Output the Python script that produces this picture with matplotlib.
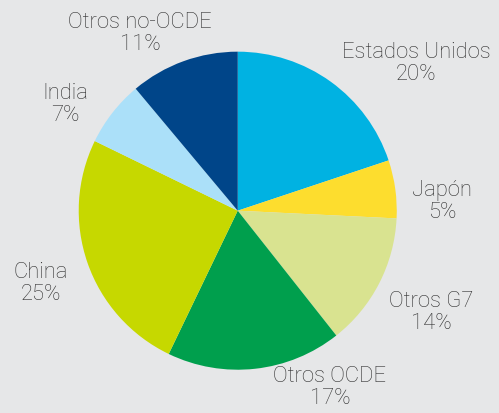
import matplotlib
matplotlib.use("Agg")
import matplotlib.pyplot as plt

# shares (clockwise from 12 o'clock)
names = ["Estados Unidos", "Japón", "Otros G7", "Otros OCDE", "China", "India", "Otros no-OCDE"]
shares = [19.9, 5.9, 13.6, 17.8, 25.1, 6.7, 11.1]
pct_labels = ["20%", "5%", "14%", "17%", "25%", "7%", "11%"]
colors = ["#00b2e2", "#fddd2e", "#d9e390", "#009f4d", "#c6d800", "#abe0f9", "#004589"]

# label anchor spots (in pie radius units)
label_x = [1.121, 1.285, 1.216, 0.58, -1.237, -1.086, -0.615]
label_y = [0.932, 0.064, -0.634, -1.106, -0.452, 0.674, 1.12]

bg = "#e6e7e8"
fig = plt.figure(figsize=(4.99, 4.14), dpi=100, facecolor=bg)
ax = fig.add_axes([0, 0, 1, 1])
ax.set_facecolor(bg)

ax.pie(shares, colors=colors, startangle=90, counterclock=False,
       radius=1, wedgeprops=dict(linewidth=0))

for n, p, x, y in zip(names, pct_labels, label_x, label_y):
    ax.text(x, y, n + "\n" + p, ha="center", va="center", fontsize=15.8,
            family="Roboto", fontweight="light", color="#2e2e2e", linespacing=1.05)

ax.set_xlim(-1.495, 1.643)
ax.set_ylim(-1.272, 1.331)
ax.set_aspect("equal")
ax.axis("off")

fig.savefig("out.png", dpi=100, facecolor=bg)
